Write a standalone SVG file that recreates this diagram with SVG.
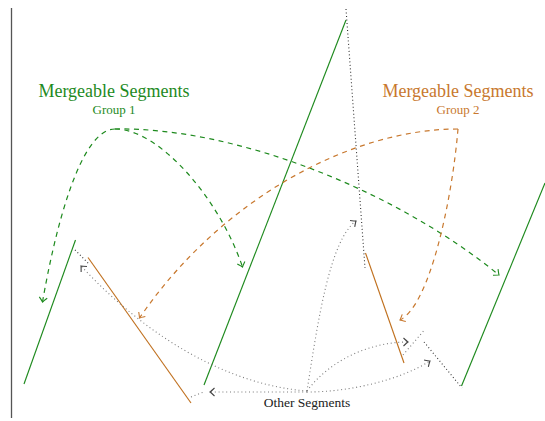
<svg xmlns="http://www.w3.org/2000/svg" width="545" height="421" viewBox="0 0 545 421">
<style>
.g{stroke:#1e8a1e;stroke-width:1.15;fill:none}
.o{stroke:#c0701e;stroke-width:1.15;fill:none}
.gd{stroke:#1e8a1e;stroke-width:1.2;fill:none;stroke-dasharray:5 4.5}
.od{stroke:#c8782e;stroke-width:1.2;fill:none;stroke-dasharray:5 4.5}
.dt{stroke:#7a7a7a;stroke-width:1.1;fill:none;stroke-dasharray:1 2.8}
.dk{stroke:#333;stroke-width:1.1;fill:none;stroke-dasharray:1 2.5}
.t{font-family:"Liberation Serif",serif;text-anchor:middle}
</style>
<defs>
<marker id="ag" viewBox="-6 -5 8 10" markerWidth="8" markerHeight="10" refX="0" refY="0" orient="auto" markerUnits="userSpaceOnUse">
<path d="M-4.5,-4 Q-1,-0.7 0,0 Q-1,0.7 -4.5,4" fill="none" stroke="#1e8a1e" stroke-width="1.1"/>
</marker>
<marker id="ao" viewBox="-6 -5 8 10" markerWidth="8" markerHeight="10" refX="0" refY="0" orient="auto" markerUnits="userSpaceOnUse">
<path d="M-4.5,-4 Q-1,-0.7 0,0 Q-1,0.7 -4.5,4" fill="none" stroke="#c8782e" stroke-width="1.1"/>
</marker>
<marker id="ak" viewBox="-6 -5 8 10" markerWidth="8" markerHeight="10" refX="0" refY="0" orient="auto" markerUnits="userSpaceOnUse">
<path d="M-4.5,-4 Q-1,-0.7 0,0 Q-1,0.7 -4.5,4" fill="none" stroke="#444" stroke-width="1.1"/>
</marker>
</defs>
<rect width="545" height="421" fill="#fff"/>
<g id="axis"><line x1="11.5" y1="8" x2="11.5" y2="418" stroke="#555" stroke-width="1.3"/></g>
<g id="label-group1">
<text class="t" x="114" y="97" font-size="18" fill="#1e8a1e">Mergeable Segments</text>
<text class="t" x="114" y="114" font-size="13" fill="#1e8a1e">Group 1</text>
</g>
<g id="label-group2">
<text class="t" x="458" y="97" font-size="18" fill="#c8782e">Mergeable Segments</text>
<text class="t" x="458" y="114" font-size="13" fill="#c8782e">Group 2</text>
</g>
<g id="label-other"><text class="t" x="307" y="407" font-size="13.5" fill="#222">Other Segments</text></g>
<g id="seg-g1"><line class="g" x1="24" y1="384" x2="75.5" y2="240"/></g>
<g id="seg-g2"><line class="g" x1="204" y1="385" x2="346" y2="20"/></g>
<g id="seg-g3"><line class="g" x1="461.5" y1="386" x2="545" y2="183"/></g>
<g id="seg-o1"><line class="o" x1="88" y1="257.5" x2="191" y2="403"/></g>
<g id="seg-o2"><line class="o" x1="365.5" y1="253" x2="404" y2="363"/></g>
<g id="seg-x1"><line class="dk" x1="346" y1="9" x2="365" y2="268"/></g>
<g id="seg-x2"><line class="dk" x1="75" y1="250" x2="88.5" y2="263.5"/></g>
<g id="seg-x3"><line class="dt" x1="191" y1="397" x2="205" y2="391.5"/></g>
<g id="seg-x4"><line class="dt" x1="403" y1="355" x2="423.5" y2="331"/></g>
<g id="seg-x5"><line class="dk" x1="424" y1="342" x2="462" y2="388"/></g>
<g id="connectors">
<path class="gd" d="M115,129 C80,129 55,230 42.5,302" marker-end="url(#ag)"/>
<path class="gd" d="M115,129 C160,129 220,200 242.5,267" marker-end="url(#ag)"/>
<path class="gd" d="M115,129 C235,127 395,190 499,275" marker-end="url(#ag)"/>
<path class="od" d="M458,129 C350,129 220,200 139.5,318" marker-end="url(#ao)"/>
<path class="od" d="M458,129 C452,200 430,305 400,320" marker-end="url(#ao)"/>
<path class="dt" d="M307,391 C230,385 150,340 81,266" marker-end="url(#ak)"/>
<path class="dt" d="M307,392 L210,392" marker-end="url(#ak)"/>
<path class="dt" d="M307,391 C318,320 330,240 356,221" marker-end="url(#ak)"/>
<path class="dt" d="M307,391 C330,360 370,342 408,342" marker-end="url(#ak)"/>
<path class="dt" d="M307,392 C350,392 400,380 430,361" marker-end="url(#ak)"/>
</g>
</svg>
